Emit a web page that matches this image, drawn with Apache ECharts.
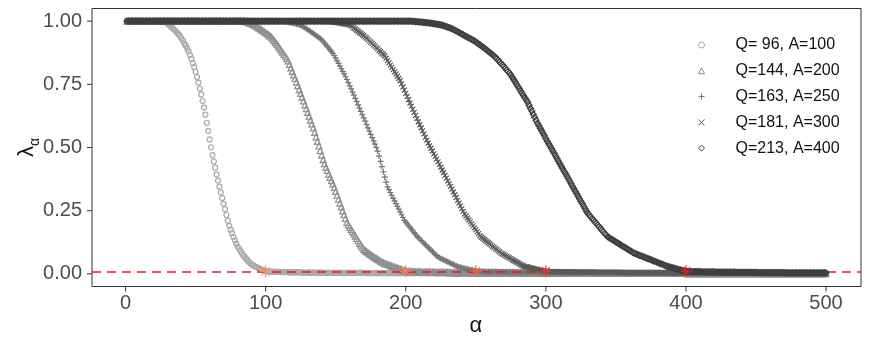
<!DOCTYPE html>
<html>
<head>
    <meta charset="UTF-8">
    <title>lambda alpha</title>
    <script src="https://cdn.jsdelivr.net/npm/echarts@6/dist/echarts.min.js"></script>
    <style>
        body { margin: 0; background: #fff; }
        #main { width: 871px; height: 349px; }
    </style>
</head>
<body>
<div id="main"></div>
<script>
    // legend names, one per curve
    var seriesNames = ['Q= 96, A=100', 'Q=144, A=200', 'Q=163, A=250', 'Q=181, A=300', 'Q=213, A=400'];

    // lambda values for alpha = 1, 2, 3 ... 500
    // [v, n] means the value v read n times in a row
    var lam96 = [[1, 29],
        0.99, 0.986, 0.981, 0.975, 0.97, 0.965, 0.959, 0.953, 0.947, 0.94,
        0.931, 0.922, 0.911, 0.902, 0.891, 0.88, 0.866, 0.851, 0.834, 0.818,
        0.8, 0.779, 0.757, 0.733, 0.71, 0.684, 0.658, 0.63, 0.598, 0.566,
        0.532, 0.501, 0.47, 0.445, 0.42, 0.393, 0.369, 0.345, 0.322, 0.3,
        0.277, 0.256, 0.233, 0.211, 0.19, 0.175, 0.161, 0.146, 0.133, 0.12,
        0.108, 0.099, 0.09, 0.082, 0.074, 0.067, 0.06, 0.054, 0.048, 0.042,
        0.038, 0.034, 0.031, 0.028, 0.025, 0.022, 0.02, 0.017, 0.015, 0.013,
        0.011,
        [0.009, 5], [0.008, 5], [0.007, 5], [0.006, 10], [0.005, 15], [0.004, 30],
        [0.003, 50], [0.002, 80], [0.001, 100], [0, 100]];

    var lam144 = [[1, 79],
        1, 1, 1, 1, 1, 1, 0.998, 0.996, 0.994, 0.992,
        0.99, 0.987, 0.984, 0.981, 0.977, 0.973, 0.97, 0.966, 0.962, 0.958,
        0.954, 0.95, 0.946, 0.942, 0.937, 0.93, 0.923, 0.916, 0.909, 0.901,
        0.893, 0.885, 0.877, 0.869, 0.861, 0.853, 0.843, 0.829, 0.815, 0.801,
        0.787, 0.773, 0.759, 0.745, 0.729, 0.714, 0.699, 0.684, 0.669, 0.654,
        0.639, 0.624, 0.608, 0.593, 0.578, 0.56, 0.542, 0.524, 0.506, 0.488,
        0.47, 0.452, 0.436, 0.422, 0.409, 0.395, 0.382, 0.369, 0.356, 0.342,
        0.326, 0.311, 0.296, 0.28, 0.265, 0.249, 0.234, 0.219, 0.204, 0.194,
        0.185, 0.176, 0.167, 0.158, 0.149, 0.14, 0.131, 0.122, 0.114, 0.105,
        0.097, 0.092, 0.088, 0.084, 0.08, 0.076, 0.072, 0.068, 0.064, 0.061,
        0.057, 0.054, 0.05, 0.047, 0.044, 0.041, 0.039, 0.037, 0.035, 0.033,
        0.031, 0.029, 0.027, 0.025, 0.023, 0.021, 0.019, 0.017, 0.015, 0.013,
        0.011,
        [0.009, 5], [0.008, 5], [0.007, 10], [0.006, 10], [0.005, 20], [0.004, 30],
        [0.003, 50], [0.002, 70], [0.001, 100]];

    var lam163 = [[1, 109],
        1, 1, 1, 1, 1, 0.998, 0.997, 0.996, 0.995, 0.993,
        0.992, 0.99, 0.989, 0.987, 0.986, 0.984, 0.981, 0.978, 0.974, 0.97,
        0.967, 0.963, 0.959, 0.955, 0.951, 0.947, 0.943, 0.939, 0.935, 0.931,
        0.926, 0.92, 0.913, 0.906, 0.9, 0.893, 0.886, 0.879, 0.872, 0.864,
        0.854, 0.843, 0.833, 0.822, 0.812, 0.801, 0.791, 0.78, 0.769, 0.757,
        0.744, 0.732, 0.719, 0.707, 0.694, 0.682, 0.669, 0.656, 0.643, 0.63,
        0.617, 0.604, 0.591, 0.578, 0.565, 0.552, 0.539, 0.526, 0.513, 0.5,
        0.486, 0.466, 0.445, 0.424, 0.404, 0.383, 0.363, 0.344, 0.333, 0.322,
        0.311, 0.3, 0.289, 0.278, 0.267, 0.256, 0.245, 0.234, 0.223, 0.212,
        0.205, 0.198, 0.191, 0.184, 0.177, 0.17, 0.163, 0.156, 0.149, 0.143,
        0.138, 0.132, 0.127, 0.121, 0.116, 0.11, 0.105, 0.099, 0.094, 0.088,
        0.083, 0.077, 0.072, 0.067, 0.064, 0.061, 0.058, 0.056, 0.053, 0.05,
        0.048, 0.045, 0.042, 0.039, 0.037, 0.034, 0.031, 0.029, 0.027, 0.026,
        0.024, 0.023, 0.021, 0.02, 0.019, 0.017, 0.016, 0.014, 0.013, 0.012,
        0.011,
        [0.009, 5], [0.008, 10], [0.007, 10], [0.006, 15], [0.005, 20], [0.004, 40],
        [0.003, 50], [0.002, 60], [0.001, 40]];

    var lam181 = [[1, 139],
        1, 1, 1, 1, 1, 1, 0.999, 0.998, 0.997, 0.996,
        0.995, 0.994, 0.993, 0.992, 0.991, 0.99, 0.989, 0.988, 0.987, 0.986,
        0.985, 0.982, 0.978, 0.973, 0.969, 0.964, 0.96, 0.955, 0.951, 0.946,
        0.942, 0.937, 0.933, 0.928, 0.922, 0.917, 0.912, 0.906, 0.901, 0.895,
        0.89, 0.884, 0.879, 0.873, 0.868, 0.862, 0.853, 0.844, 0.835, 0.826,
        0.817, 0.808, 0.799, 0.791, 0.782, 0.773, 0.764, 0.752, 0.74, 0.727,
        0.714, 0.702, 0.689, 0.676, 0.664, 0.651, 0.639, 0.627, 0.614, 0.602,
        0.59, 0.578, 0.566, 0.554, 0.541, 0.529, 0.518, 0.507, 0.497, 0.486,
        0.475, 0.465, 0.454, 0.443, 0.433, 0.422, 0.411, 0.401, 0.39, 0.379,
        0.368, 0.357, 0.346, 0.335, 0.324, 0.313, 0.302, 0.291, 0.28, 0.269,
        0.258, 0.247, 0.237, 0.229, 0.221, 0.213, 0.206, 0.198, 0.19, 0.182,
        0.175, 0.167, 0.159, 0.151, 0.145, 0.141, 0.136, 0.132, 0.127, 0.123,
        0.118, 0.114, 0.109, 0.105, 0.1, 0.096, 0.091, 0.087, 0.082, 0.079,
        0.076, 0.072, 0.069, 0.066, 0.063, 0.06, 0.056, 0.053, 0.05, 0.047,
        0.044, 0.04, 0.037, 0.034, 0.031, 0.029, 0.028, 0.027, 0.025, 0.024,
        0.023, 0.022, 0.02, 0.019, 0.018, 0.016, 0.015, 0.014, 0.013, 0.012,
        0.011,
        [0.009, 10], [0.008, 10], [0.007, 15], [0.006, 20], [0.005, 25], [0.004, 40],
        [0.003, 40], [0.002, 40]];

    var lam213 = [[1, 199],
        1, 1, 1, 1, 1, 0.999, 0.999, 0.998, 0.998, 0.997,
        0.997, 0.996, 0.996, 0.995, 0.994, 0.994, 0.993, 0.992, 0.992, 0.991,
        0.99, 0.989, 0.988, 0.987, 0.986, 0.985, 0.984, 0.982, 0.98, 0.978,
        0.976, 0.974, 0.972, 0.97, 0.967, 0.964, 0.961, 0.958, 0.955, 0.952,
        0.949, 0.946, 0.943, 0.94, 0.937, 0.934, 0.931, 0.928, 0.925, 0.922,
        0.918, 0.914, 0.91, 0.906, 0.902, 0.898, 0.894, 0.889, 0.885, 0.88,
        0.876, 0.871, 0.867, 0.862, 0.857, 0.851, 0.845, 0.839, 0.833, 0.827,
        0.821, 0.814, 0.807, 0.801, 0.794, 0.787, 0.778, 0.769, 0.76, 0.751,
        0.742, 0.733, 0.724, 0.715, 0.706, 0.697, 0.688, 0.679, 0.667, 0.655,
        0.644, 0.632, 0.62, 0.608, 0.596, 0.586, 0.576, 0.566, 0.556, 0.546,
        0.535, 0.525, 0.515, 0.506, 0.496, 0.486, 0.476, 0.466, 0.456, 0.446,
        0.436, 0.426, 0.416, 0.406, 0.397, 0.387, 0.377, 0.367, 0.357, 0.347,
        0.337, 0.327, 0.317, 0.307, 0.297, 0.287, 0.278, 0.268, 0.258, 0.248,
        0.239, 0.232, 0.226, 0.219, 0.213, 0.206, 0.2, 0.193, 0.187, 0.18,
        0.173, 0.167, 0.16, 0.154, 0.147, 0.144, 0.14, 0.137, 0.133, 0.13,
        0.126, 0.123, 0.12, 0.116, 0.113, 0.109, 0.106, 0.103, 0.099, 0.096,
        0.092, 0.089, 0.085, 0.082, 0.08, 0.078, 0.075, 0.073, 0.071, 0.069,
        0.067, 0.064, 0.062, 0.06, 0.058, 0.056, 0.053, 0.051, 0.049, 0.047,
        0.044, 0.042, 0.04, 0.038, 0.036, 0.033, 0.031, 0.029, 0.028, 0.026,
        0.025, 0.023, 0.022, 0.02, 0.019, 0.017, 0.016, 0.014, 0.013, 0.012,
        0.011,
        [0.009, 10], [0.008, 10], [0.007, 15], [0.006, 15], [0.005, 20], [0.004, 30]];

    // red marks: A values on the 0.01 threshold
    var starAlpha = [100, 200, 250, 300, 400];
    var threshold = 0.01;

    // tick values
    var xTicks = [0, 100, 200, 300, 400, 500];
    var yTicks = [0, 0.25, 0.5, 0.75, 1];
    // plotting range = data range padded by 5% each side
    var xPad = (500 - 1) * 0.05, yPad = 0.05;

    // unpack the runs into [alpha, lambda] points
    function expand(list) {
        var ys = [];
        list.forEach(function (v) {
            if (Array.isArray(v)) {
                for (var i = 0; i < v[1]; i++) ys.push(v[0]);
            } else {
                ys.push(v);
            }
        });
        return ys.map(function (y, i) { return [i + 1, y]; });
    }

    var W = 871, H = 349, TICK = 5;
    var box = { left: 92, right: 10, top: 8.5, bottom: 62.5 };
    var lo = 1 - xPad, hi = 500 + xPad;
    var pxX = (W - box.left - box.right) / (hi - lo);
    var pxY = (H - box.top - box.bottom) / (1 + 2 * yPad);
    // inner box whose edges sit on 0/500 and 0/1 of the main grid (labels + ticks)
    var inner = {
        left: box.left + (xTicks[0] - lo) * pxX,
        right: box.right + (hi - xTicks[xTicks.length - 1]) * pxX,
        top: box.top + yPad * pxY,
        bottom: box.bottom + yPad * pxY
    };

    var allLam = [lam96, lam144, lam163, lam181, lam213];
    var greys = ['#a9a9a9', '#8f8f8f', '#747474', '#5a5a5a', '#3f3f3f'];
    var shapes = ['circle', 'triangle', 'path://M5,0L5,10M0,5L10,5', 'path://M0,0L10,10M10,0L0,10', 'diamond'];
    var sizes = [5, 6, 6, 5, 6];
    var starColors = ['#f5946f', '#f47f5c', '#f06444', '#e83a30', '#d82424'];

    var chart = echarts.init(document.getElementById('main'));

    var series = allLam.map(function (lam, k) {
        return {
            name: seriesNames[k],
            type: 'scatter',
            data: expand(lam),
            symbol: shapes[k],
            symbolSize: sizes[k],
            silent: true,
            itemStyle: {
                color: 'rgba(0,0,0,0)',
                borderColor: greys[k],
                borderWidth: 1.2,
                opacity: 1
            },
            z: 2 + k
        };
    });

    series.push({
        name: 'threshold',
        type: 'scatter',
        silent: true,
        data: starAlpha.map(function (a, i) {
            return {
                value: [a, threshold],
                itemStyle: { borderColor: starColors[i] }
            };
        }),
        symbol: 'path://M5,0L5,10M0,5L10,5M1.5,1.5L8.5,8.5M8.5,1.5L1.5,8.5',
        symbolSize: 12,
        itemStyle: { color: 'rgba(0,0,0,0)', borderWidth: 1.4 },
        markLine: {
            silent: true,
            symbol: 'none',
            label: { show: false },
            lineStyle: { color: '#f01818', width: 1.6, type: [9, 6] },
            data: [{ yAxis: threshold }]
        },
        z: 10
    });

    // each label carries its own outside tick mark as a small filled box
    var tickRich = {
        v: { fontSize: 20, color: '#4d4d4d', lineHeight: 24 },
        tx: { width: 1, height: TICK, lineHeight: TICK, backgroundColor: '#333', align: 'center', fontSize: 1 },
        vy: { fontSize: 20, color: '#4d4d4d', lineHeight: 24, padding: [0, 5, 0, 0], verticalAlign: 'middle' },
        ty: { width: TICK, height: 1, backgroundColor: '#333', verticalAlign: 'middle', fontSize: 1 }
    };

    var option = {
        animation: false,
        backgroundColor: '#fff',
        textStyle: { fontFamily: 'Liberation Sans, Arial, sans-serif' },
        grid: [{
            // plot panel
            left: box.left, right: box.right, top: box.top, bottom: box.bottom,
            show: true, borderColor: '#333', borderWidth: 1, outerBoundsMode: 'none'
        }, {
            // tick labels and axis names
            left: inner.left, right: inner.right, top: inner.top, bottom: inner.bottom,
            show: false, outerBoundsMode: 'none'
        }],
        legend: {
            data: seriesNames,
            orient: 'vertical',
            left: 698,
            top: 37,
            padding: 0,
            itemWidth: 6,
            itemHeight: 6,
            itemGap: 9.8,
            itemStyle: { borderWidth: 1 },
            textStyle: { fontSize: 16, color: '#111', padding: [0, 0, 0, 26] }
        },
        xAxis: [{
            type: 'value', gridIndex: 0, min: lo, max: hi, show: false
        }, {
            type: 'value',
            gridIndex: 1,
            min: xTicks[0],
            max: xTicks[xTicks.length - 1],
            interval: xTicks[1] - xTicks[0],
            position: 'bottom',
            offset: yPad * pxY,
            name: 'α',
            nameLocation: 'middle',
            nameGap: 28,
            nameMoveOverlap: false,
            nameTextStyle: { fontSize: 22, color: '#111' },
            axisLine: { show: false, onZero: false },
            axisTick: { show: false },
            splitLine: { show: false },
            axisLabel: {
                margin: 0,
                rich: tickRich,
                formatter: function (v) { return '{tx| }\n{v|' + v + '}'; }
            }
        }],
        yAxis: [{
            type: 'value', gridIndex: 0, min: -yPad, max: 1 + yPad, show: false
        }, {
            type: 'value',
            gridIndex: 1,
            min: yTicks[0],
            max: yTicks[yTicks.length - 1],
            interval: yTicks[1] - yTicks[0],
            position: 'left',
            offset: (xTicks[0] - lo) * pxX,
            name: '{l|λ}{s|α}',
            nameLocation: 'middle',
            nameRotate: 90,
            nameGap: 50,
            nameMoveOverlap: false,
            nameTextStyle: {
                rich: {
                    l: { fontSize: 22, color: '#111', lineHeight: 30, verticalAlign: 'middle' },
                    s: { fontSize: 14, color: '#111', lineHeight: 30, verticalAlign: 'bottom' }
                }
            },
            axisLine: { show: false, onZero: false },
            axisTick: { show: false },
            splitLine: { show: false },
            axisLabel: {
                margin: 0,
                rich: tickRich,
                formatter: function (v) { return '{vy|' + v.toFixed(2) + '}{ty| }'; }
            }
        }],
        series: series
    };

    chart.setOption(option);
</script>
</body>
</html>
